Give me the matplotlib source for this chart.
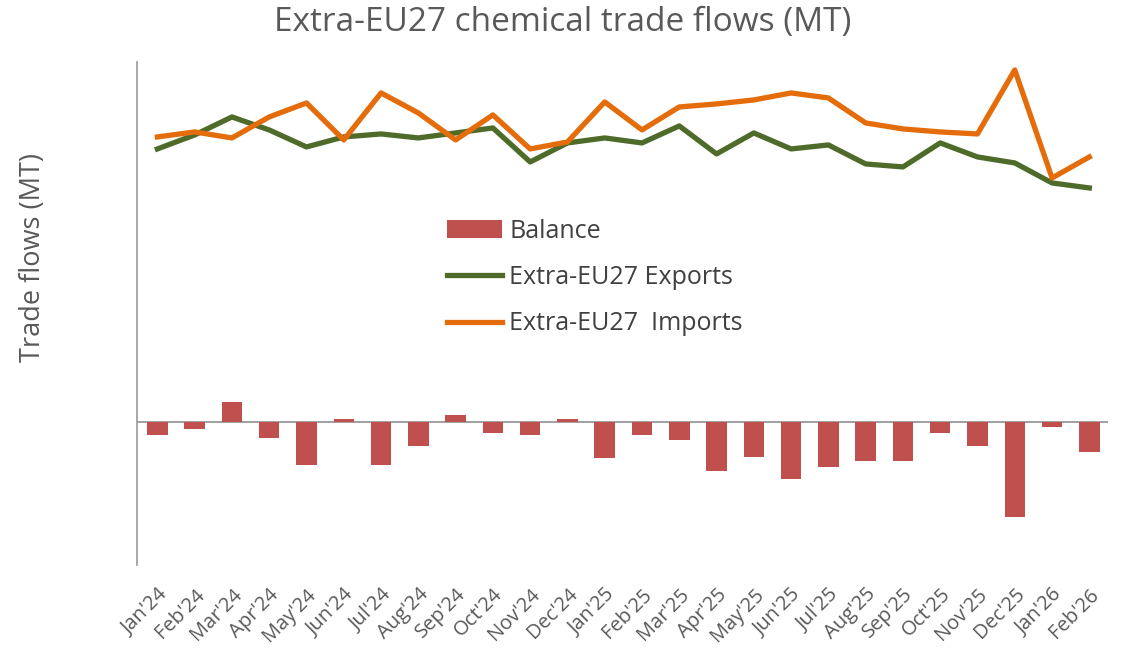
import matplotlib
matplotlib.use("Agg")
import matplotlib.pyplot as plt
import numpy as np

months = ["Jan'24", "Feb'24", "Mar'24", "Apr'24", "May'24", "Jun'24", "Jul'24", "Aug'24",
          "Sep'24", "Oct'24", "Nov'24", "Dec'24", "Jan'25", "Feb'25", "Mar'25", "Apr'25",
          "May'25", "Jun'25", "Jul'25", "Aug'25", "Sep'25", "Oct'25", "Nov'25", "Dec'25",
          "Jan'26", "Feb'26"]
exports = [27.3, 28.7, 30.5, 29.2, 27.5, 28.5, 28.8, 28.4, 28.9, 29.4, 26.0, 27.9, 28.4,
           27.9, 29.6, 26.8, 28.9, 27.3, 27.7, 25.8, 25.5, 27.9, 26.5, 25.9, 23.9, 23.4]
imports = [28.5, 29.0, 28.4, 30.5, 31.9, 28.2, 32.9, 30.9, 28.2, 30.7, 27.3, 28.0, 32.0,
           29.2, 31.5, 31.8, 32.2, 32.9, 32.4, 29.9, 29.3, 29.0, 28.8, 35.2, 24.4, 26.5]
balance = [-1.3, -0.7, 2.0, -1.6, -4.3, 0.3, -4.3, -2.4, 0.7, -1.1, -1.3, 0.3, -3.6,
           -1.3, -1.8, -4.9, -3.5, -5.7, -4.5, -3.9, -3.9, -1.1, -2.4, -9.5, -0.5, -3.0]

plt.rcParams['font.family'] = ['Open Sans', 'DejaVu Sans']

fig = plt.figure(figsize=(11.22, 6.66), dpi=100)
ax = fig.add_axes([0.122, 0.1517, 0.8655, 0.7553])

x = np.arange(len(months))
ax.plot(x, exports, color='#4F6B2A', lw=3.8, label='Extra-EU27 Exports', zorder=3)
ax.plot(x, imports, color='#E46C0A', lw=3.8, label='Extra-EU27  Imports', zorder=3)
ax.bar(x, balance, width=0.55, color='#C0504D', label='Balance', zorder=2)
ax.axhline(0, color='#999999', lw=1.3, zorder=1)

ax.set_xlim(-0.55, 25.5)
ax.set_ylim(-14.3, 36)
ax.set_yticks([])
ax.set_xticks(x)
ax.set_xticklabels(months, rotation=45, ha='right', rotation_mode='anchor',
                   fontsize=14.5, color='#595959')
ax.tick_params(axis='x', length=0, pad=14)
for s in ['top', 'right', 'bottom']:
    ax.spines[s].set_visible(False)
ax.spines['left'].set_color('#999999')
ax.spines['left'].set_linewidth(1.2)

fig.text(33 / 1122, 1 - 257 / 666, 'Trade flows (MT)', rotation=90, ha='center',
         va='center', fontsize=19.5, color='#595959')
fig.text(563 / 1122, 1 - 22 / 666, 'Extra-EU27 chemical trade flows (MT)',
         ha='center', va='center', fontsize=24, color='#595959')

handles, labels = ax.get_legend_handles_labels()
order = [2, 0, 1]
leg = ax.legend([handles[i] for i in order], [labels[i] for i in order],
                loc='upper left', bbox_to_anchor=(0.378, 0.705),
                bbox_transform=fig.transFigure, frameon=False, fontsize=18,
                labelspacing=0.85, handlelength=2.2, handletextpad=0.3)
for t in leg.get_texts():
    t.set_color('#404040')

fig.savefig('out.png', dpi=100)
